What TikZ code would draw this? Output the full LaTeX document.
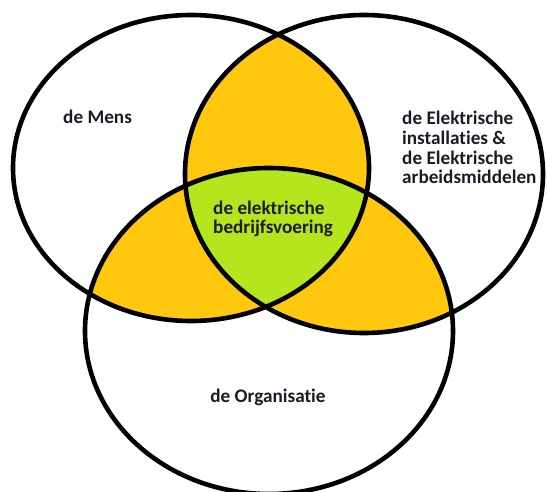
\documentclass[tikz,border=0pt]{standalone}
\usepackage{fontspec}
\setmainfont{Carlito}[Ligatures=NoCommon]
\definecolor{vyellow}{RGB}{255,200,14}
\definecolor{vgreen}{RGB}{181,230,29}
\definecolor{vtext}{RGB}{28,28,40}
\begin{document}
\begin{tikzpicture}[x=1pt,y=-1pt,
  ring/.style={line width=4.6pt,draw=black},
  lbl/.style={inner sep=0pt,font=\bfseries\fontsize{19.2}{19.7}\selectfont,text=vtext}]
\useasboundingbox (0,0) rectangle (547,492);
\fill[white] (0,0) rectangle (547,492);
\def\mens{(191,168) ellipse [x radius=178pt, y radius=153pt]}
\def\elek{(364,174) ellipse [x radius=179pt, y radius=159pt]}
\def\org{(269,331) ellipse [x radius=184pt, y radius=163pt]}
% pairwise overlaps
\begin{scope}\clip \mens; \fill[vyellow] \elek; \end{scope}
\begin{scope}\clip \mens; \fill[vyellow] \org; \end{scope}
\begin{scope}\clip \elek; \fill[vyellow] \org; \end{scope}
% triple overlap
\begin{scope}\clip \mens; \clip \elek; \fill[vgreen] \org; \end{scope}
% outlines
\draw[ring] \mens;
\draw[ring] \elek;
\draw[ring] \org;
% labels
\node[lbl,anchor=base west] (tmens) at (63,124) {de Mens};
\node[lbl,anchor=base west,align=left] (telek) at (402,184) {de Elektrische\\installaties \&\\de Elektrische\\arbeidsmiddelen};
\node[lbl,anchor=base west,align=left] (tcore) at (213,234) {de elektrische\\bedrijfsvoering};
\node[lbl,anchor=base] (torg) at (268,402) {de Organisatie};
\end{tikzpicture}
\end{document}
